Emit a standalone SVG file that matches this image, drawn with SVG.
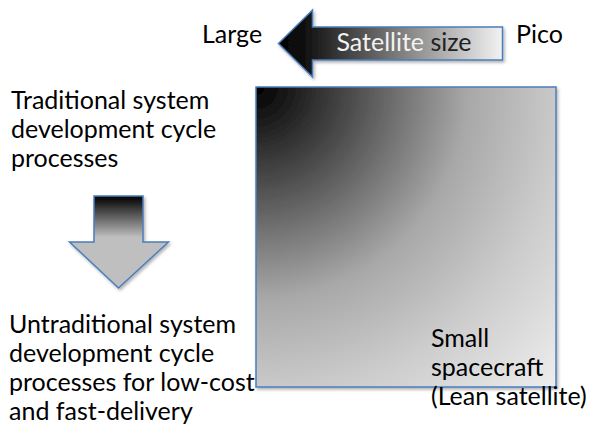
<svg xmlns="http://www.w3.org/2000/svg" width="590" height="432" viewBox="0 0 590 432">
  <defs>
    <style>
      .lbl { font-family: Lato, "Open Sans", "Liberation Sans", sans-serif; font-size: 25px; fill: #000; }
      .edge { stroke: #4a7ebb; stroke-width: 1.5; stroke-linejoin: miter; }
    </style>
    <filter id="shadow" x="-10%" y="-10%" width="130%" height="130%">
      <feDropShadow dx="1.5" dy="2" stdDeviation="1.5" flood-color="#000" flood-opacity="0.3"/>
    </filter>
    <!-- size axis: dark at the large end, fading to light at the pico end -->
    <linearGradient id="sizeFill" gradientUnits="userSpaceOnUse" x1="278" y1="0" x2="502" y2="0">
      <stop offset="0" stop-color="#000"/>
      <stop offset="0.12" stop-color="#111"/>
      <stop offset="1" stop-color="#f2f2f2"/>
    </linearGradient>
    <!-- process arrow: dark shaft fading into grey head -->
    <linearGradient id="procFill" gradientUnits="userSpaceOnUse" x1="0" y1="196" x2="0" y2="242">
      <stop offset="0" stop-color="#000"/>
      <stop offset="0.9" stop-color="#bfbfbf"/>
      <stop offset="1" stop-color="#bfbfbf"/>
    </linearGradient>
    <!-- design space square: black corner radiating to light grey -->
    <radialGradient id="spaceFill" gradientUnits="userSpaceOnUse" cx="256" cy="87" r="424">
      <stop offset="0" stop-color="#000"/>
      <stop offset="0.5" stop-color="#a8a8a8"/>
      <stop offset="0.72" stop-color="#cbcbcb"/>
      <stop offset="1" stop-color="#eeeeee"/>
    </radialGradient>
  </defs>

  <rect width="590" height="432" fill="#fff"/>

  <!-- design space square -->
  <g id="design-space">
    <rect x="256" y="87" width="300" height="300" fill="url(#spaceFill)" class="edge" filter="url(#shadow)"/>
  </g>

  <!-- axis and process arrows -->
  <g id="connectors">
    <g id="size-arrow">
      <path d="M278.5,43.5 L312.5,10 L312.5,27 L502.5,27 L502.5,60 L312.5,60 L312.5,77 Z" fill="url(#sizeFill)" class="edge" filter="url(#shadow)"/>
      <text class="lbl" x="404" y="50.5" text-anchor="middle"><tspan fill="#f2f2f2">Satellite</tspan> <tspan fill="#222">size</tspan></text>
    </g>
    <g id="process-arrow">
      <path d="M94,196 L143,196 L143,242 L168.5,242 L118.5,288 L69.5,242 L94,242 Z" fill="url(#procFill)" class="edge" filter="url(#shadow)"/>
    </g>
  </g>

  <g id="label-large">
    <text class="lbl" x="202" y="42.5">Large</text>
  </g>
  <g id="label-pico">
    <text class="lbl" x="516" y="43">Pico</text>
  </g>

  <g id="traditional">
    <text class="lbl" x="11" y="109">Traditional system</text>
    <text class="lbl" x="11" y="138">development cycle</text>
    <text class="lbl" x="11" y="167">processes</text>
  </g>

  <g id="untraditional">
    <text class="lbl" x="9" y="333">Untraditional system</text>
    <text class="lbl" x="9" y="362">development cycle</text>
    <text class="lbl" x="9" y="391">processes for low-cost</text>
    <text class="lbl" x="9" y="420">and fast-delivery</text>
  </g>

  <g id="small-spacecraft">
    <text class="lbl" x="431" y="347">Small</text>
    <text class="lbl" x="431" y="376">spacecraft</text>
    <text class="lbl" x="431" y="405">(Lean satellite)</text>
  </g>
</svg>
